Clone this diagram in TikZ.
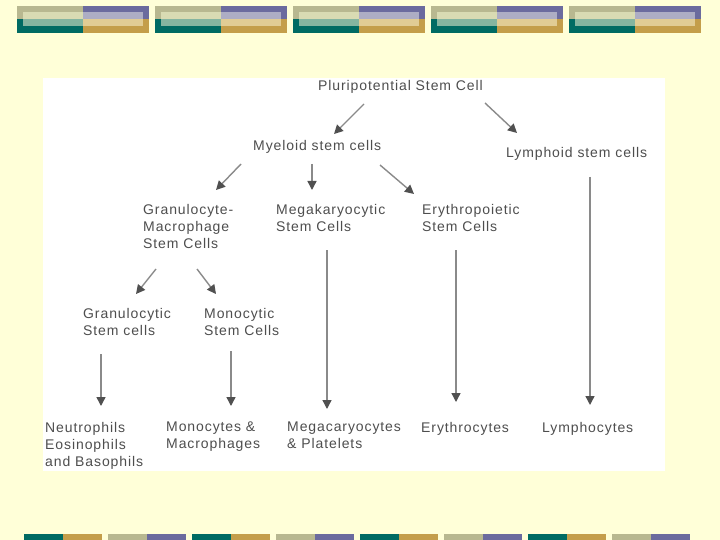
\documentclass[tikz,border=0pt]{standalone}
\usepackage{fontspec}
\newfontfamily\labfont[LetterSpace=6.5]{Liberation Sans}
\usetikzlibrary{arrows.meta}
\definecolor{bgyellow}{HTML}{FFFFD8}
\definecolor{txtgray}{HTML}{4E4E4E}
\definecolor{linegray}{HTML}{8A8A8A}
\definecolor{headgray}{HTML}{505050}
\definecolor{khaki}{HTML}{B8B890}
\definecolor{purp}{HTML}{6B6B9E}
\definecolor{teal}{HTML}{006B63}
\definecolor{gold}{HTML}{C49E4A}
\definecolor{lkhaki}{HTML}{D9DBB3}
\definecolor{lpurp}{HTML}{ADADC4}
\definecolor{lteal}{HTML}{85B5A0}
\definecolor{lgold}{HTML}{E1CC94}
\tikzset{
  lab/.style={anchor=north west, inner sep=0pt, align=left, text=txtgray,
    font=\labfont\fontsize{14}{17}\selectfont},
  arr/.style={draw=linegray, line width=1.4pt,
    -{Triangle[length=9pt,width=9pt,color=headgray]}},
}
\begin{document}
\begin{tikzpicture}[x=1pt,y=-1pt]
\useasboundingbox (0,0) rectangle (720,540);
\fill[bgyellow] (0,0) rectangle (720,540);
% top decorative bars
\foreach \i in {0,...,4}{
  \begin{scope}[xshift=\i*138pt]
    \fill[khaki] (17,6) rectangle (83,19);
    \fill[purp] (83,6) rectangle (149,19);
    \fill[teal] (17,19) rectangle (83,33);
    \fill[gold] (83,19) rectangle (149,33);
    \fill[lkhaki] (23,12) rectangle (83,19);
    \fill[lpurp] (83,12) rectangle (143,19);
    \fill[lteal] (23,19) rectangle (83,26);
    \fill[lgold] (83,19) rectangle (143,26);
  \end{scope}
}
% bottom decorative bars
\foreach \i in {0,2,4,6}{
  \fill[teal] (24+\i*84,534) rectangle (63+\i*84,540);
  \fill[gold] (63+\i*84,534) rectangle (102+\i*84,540);
}
\foreach \i in {1,3,5,7}{
  \fill[khaki] (24+\i*84,534) rectangle (63+\i*84,540);
  \fill[purp] (63+\i*84,534) rectangle (102+\i*84,540);
}
% white panel
\fill[white] (43,78) rectangle (665,471);
% nodes
\node[lab] (pluri) at (318,80) {Pluripotential Stem Cell};
\node[lab] (myeloid) at (253,140) {Myeloid stem cells};
\node[lab] (lymphoid) at (506,147) {Lymphoid stem cells};
\node[lab] (gm) at (143,204) {Granulocyte-\\Macrophage\\Stem Cells};
\node[lab] (mega) at (276,204) {Megakaryocytic\\Stem Cells};
\node[lab] (ery) at (422,204) {Erythropoietic\\Stem Cells};
\node[lab] (granu) at (83,308) {Granulocytic\\Stem cells};
\node[lab] (mono) at (204,308) {Monocytic\\Stem Cells};
\node[lab] (neut) at (45,422) {Neutrophils\\Eosinophils\\and Basophils};
\node[lab] (monoc) at (166,422) {Monocytes \&\\Macrophages};
\node[lab] (megac) at (287,422) {Megacaryocytes\\\& Platelets};
\node[lab] (eryc) at (421,422) {Erythrocytes};
\node[lab] (lymc) at (542,422) {Lymphocytes};
% connectors
\draw[arr] ([shift={(46,24)}]pluri.north west) -- ([shift={(81,-6)}]myeloid.north west);
\draw[arr] ([shift={(167,23)}]pluri.north west) -- ([shift={(11,-14)}]lymphoid.north west);
\draw[arr] ([shift={(-12,24)}]myeloid.north west) -- ([shift={(73,-14)}]gm.north west);
\draw[arr] ([shift={(59,24)}]myeloid.north west) -- ([shift={(36,-14)}]mega.north west);
\draw[arr] ([shift={(127,25)}]myeloid.north west) -- ([shift={(-8,-10)}]ery.north west);
\draw[arr] ([shift={(13,65)}]gm.north west) -- ([shift={(53,-14)}]granu.north west);
\draw[arr] ([shift={(54,65)}]gm.north west) -- ([shift={(12,-14)}]mono.north west);
\draw[arr] ([shift={(18,46)}]granu.north west) -- ([shift={(56,-16)}]neut.north west);
\draw[arr] ([shift={(27,43)}]mono.north west) -- ([shift={(65,-16)}]monoc.north west);
\draw[arr] ([shift={(51,46)}]mega.north west) -- ([shift={(40,-13)}]megac.north west);
\draw[arr] ([shift={(34,46)}]ery.north west) -- ([shift={(35,-20)}]eryc.north west);
\draw[arr] ([shift={(84,30)}]lymphoid.north west) -- ([shift={(48,-17)}]lymc.north west);
\end{tikzpicture}
\end{document}
